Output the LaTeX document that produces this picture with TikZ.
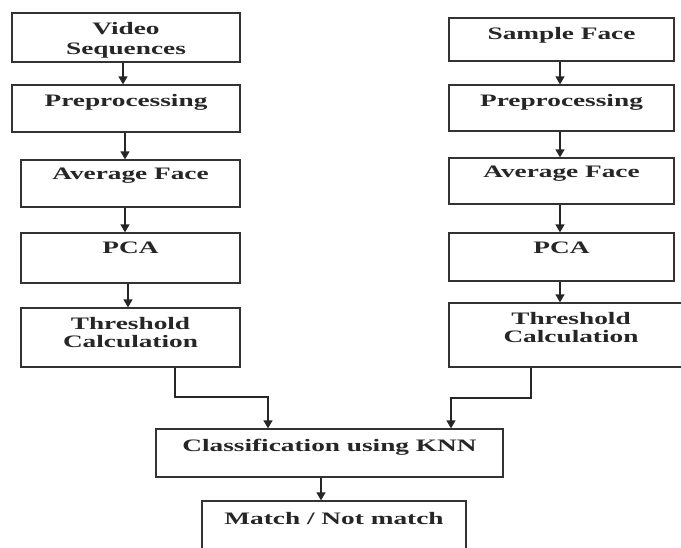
\documentclass[tikz,border=0pt]{standalone}
\usepackage{fontspec}
\setmainfont{Liberation Serif}[FakeStretch=1.56]
\usetikzlibrary{arrows.meta,calc}
\begin{document}
\begin{tikzpicture}[x=1pt,y=-1pt,
  box/.style={draw=black!80, line width=1.3pt, inner sep=0pt},
  txt/.style={inner sep=0pt, align=center, text=black!85,
    font=\fontsize{17.5}{18}\bfseries\selectfont},
  ln/.style={draw=black!85, line width=1.3pt},
  arr/.style={ln, -{Triangle[length=8pt,width=9pt]}}]
\useasboundingbox (0,0) rectangle (681,547);
% left column
\node[box, minimum width=228pt, minimum height=49pt] (L1) at (126,37.5) {};
\node[box, minimum width=228pt, minimum height=47pt] (L2) at (126,108.5) {};
\node[box, minimum width=219pt, minimum height=47pt] (L3) at (130.5,183.5) {};
\node[box, minimum width=219pt, minimum height=50pt] (L4) at (130.5,258) {};
\node[box, minimum width=219pt, minimum height=59pt] (L5) at (130.5,337.5) {};
% right column
\node[box, minimum width=225pt, minimum height=43pt] (R1) at (561.5,39.5) {};
\node[box, minimum width=225pt, minimum height=46pt] (R2) at (561.5,108) {};
\node[box, minimum width=225pt, minimum height=46pt] (R3) at (561.5,181) {};
\node[box, minimum width=225pt, minimum height=48pt] (R4) at (561.5,257) {};
\node[box, minimum width=244pt, minimum height=64pt] (R5) at (571,335) {};
% bottom
\node[box, minimum width=347pt, minimum height=48pt] (K) at (329.5,453) {};
\node[box, minimum width=264pt, minimum height=52pt] (M) at (334,527) {};
% texts
\node[txt, below=9.5pt] (tL1) at (L1.north) {Video\\[2.5pt]Sequences};
\node[txt, below=9.5pt] (tL2) at (L2.north) {Preprocessing};
\node[txt, below=8pt] (tL3) at (L3.north) {Average Face};
\node[txt, below=9pt] (tL4) at (L4.north) {PCA};
\node[txt, below=9.5pt] (tL5) at (L5.north) {Threshold\\Calculation};
\node[txt, below=9.5pt] (tR1) at (R1.north) {Sample Face};
\node[txt, below=9.5pt] (tR2) at (R2.north) {Preprocessing};
\node[txt, below=8.5pt] (tR3) at (R3.north) {Average Face};
\node[txt, below=9pt] (tR4) at (R4.north) {PCA};
\node[txt, below=9.5pt] (tR5) at (R5.north) {Threshold\\Calculation};
\node[txt, below=10.5pt] (tK) at (K.north) {Classification using KNN};
\node[txt, below=11.5pt] (tM) at (M.north) {Match / Not match};
% x positions of connectors
\coordinate (xa) at (123,0);
\coordinate (xb) at (125,0);
\coordinate (xc) at (128,0);
\coordinate (xr) at (560,0);
\coordinate (xl5) at (175,0);
\coordinate (xr5) at (531,0);
\coordinate (xk) at (321,0);
\coordinate (jL) at (268,397);
\coordinate (jR) at (451,398);
% arrows
\draw[arr] (L1.south -| xa) -- (L2.north -| xa);
\draw[arr] (L2.south -| xb) -- (L3.north -| xb);
\draw[arr] (L3.south -| xb) -- (L4.north -| xb);
\draw[arr] (L4.south -| xc) -- (L5.north -| xc);
\draw[arr] (R1.south -| xr) -- (R2.north -| xr);
\draw[arr] (R2.south -| xr) -- (R3.north -| xr);
\draw[arr] (R3.south -| xr) -- (R4.north -| xr);
\draw[arr] (R4.south -| xr) -- (R5.north -| xr);
\draw[arr] (L5.south -| xl5) |- (jL) -- (jL |- K.north);
\draw[arr] (R5.south -| xr5) |- (jR) -- (jR |- K.north);
\draw[arr] (K.south -| xk) -- (M.north -| xk);
\end{tikzpicture}
\end{document}
